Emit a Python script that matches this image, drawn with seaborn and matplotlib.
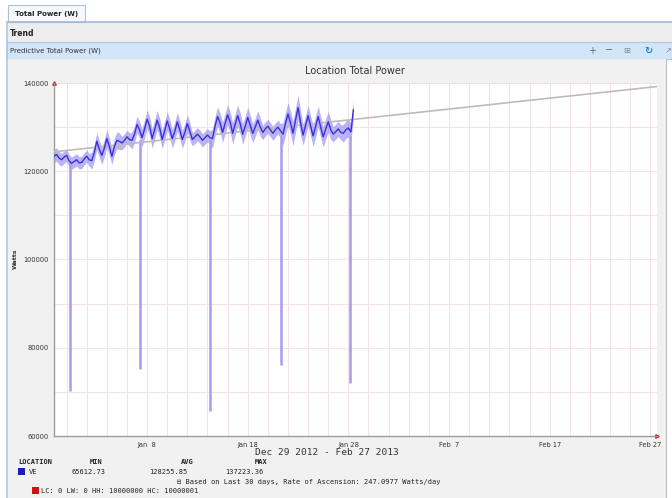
import numpy as np
import pandas as pd
import matplotlib
matplotlib.use('Agg')
import matplotlib.pyplot as plt
from matplotlib.patches import Rectangle
import seaborn as sns


# serie cada 6 horas desde el inicio
SERIE_INICIO = '2012-12-29 18:00'
POTENCIA_W = [
    123400, 123800, 123000,
    122600, 123200, 123600, 122400,
    121800, 122200, 122600, 121900,
    122000, 122800, 123400, 122600,
    122400, 124200, 126800, 125000,
    123600, 125200, 127400, 125600,
    123400, 125600, 127000, 126800,
    126400, 127000, 127800, 127200,
    127000, 128400, 130600, 129400,
    127600, 129600, 131800, 130200,
    127400, 129400, 131600, 129800,
    127200, 129200, 131400, 129600,
    127400, 129000, 131200, 129400,
    127200, 128800, 130800, 129000,
    127200, 127800, 128400, 127800,
    127000, 127600, 128200, 127600,
    127400, 130200, 132400, 131000,
    128800, 130800, 132800, 131200,
    128600, 130600, 132600, 130800,
    128400, 130200, 132200, 130400,
    128600, 130000, 131600, 130000,
    128800, 129600, 130200, 129400,
    128600, 129400, 130000, 129200,
    128400, 130800, 133000, 131000,
    128600, 131600, 134400, 131000,
    128200, 130400, 132600, 130200,
    128000, 130200, 132400, 130000,
    127800, 129600, 131200, 129400,
    128400, 129000, 129600, 128800,
    128600, 129400, 129800, 128900, 134000,
]
# ancho de la banda (por dia)
BANDA_W = [1500, 1400, 1400, 1400, 1900, 2000, 1900, 1500, 1900, 2100,
           2200, 2100, 2100, 2000, 1500, 1500, 2200, 2300, 2400, 2300,
           2100, 1600, 1600, 2600, 2800, 2300, 2400, 2300, 1700, 2000]

CAIDAS_FECHA = ['2012-12-31 08:00', '2013-01-07 07:00', '2013-01-14 06:00',
                '2013-01-21 07:00', '2013-01-28 05:00']
CAIDAS_MIN = [70200, 75200, 65612.73, 76100, 72000]
CAIDAS_DESDE = [122000, 127000, 127000, 128000, 128000]

TENDENCIA_FECHA = ['2012-12-29 18:00', '2013-02-27 16:00']
TENDENCIA_W = [124400, 139200]

TICKS_X = ['2013-01-08', '2013-01-18', '2013-01-28', '2013-02-07', '2013-02-17', '2013-02-27']
ETIQUETAS_X = ['Jan  8', 'Jan 18', 'Jan 28', 'Feb  7', 'Feb 17', 'Feb 27']
TICKS_Y = [60000, 80000, 100000, 120000, 140000]

W, H = 672, 498


def fx(px):
    return px / W


def fy(py):
    return 1 - py / H


def caja(fig, x0, y0, x1, y1, color, borde=None, z=-5):
    fig.patches.append(Rectangle((fx(x0), fy(y1)), fx(x1 - x0), (y1 - y0) / H,
                                 transform=fig.transFigure, facecolor=color,
                                 edgecolor=borde if borde else 'none', lw=0.8, zorder=z))


def main():
    sns.set_style('white')
    plt.rcParams['font.family'] = ['DejaVu Sans']

    fechas = pd.date_range(SERIE_INICIO, periods=len(POTENCIA_W), freq='6h')
    potencia = np.array(POTENCIA_W, dtype=float)
    dia = np.clip((np.arange(len(potencia)) + 1) // 4, 0, len(BANDA_W) - 1)
    banda = np.array(BANDA_W, dtype=float)[dia]

    fig = plt.figure(figsize=(W / 100, H / 100), dpi=100)
    fig.patch.set_facecolor('white')

    # marco de la interfaz
    caja(fig, 7, 23, 672, 42, '#ededed')
    caja(fig, 7, 42, 672, 59, '#d3e5f8', '#aac8ea')
    caja(fig, 7, 59, 666, 498, '#f1f1f1')
    caja(fig, 8, 5, 85, 22, '#f7f9fc', '#aebfd6')
    fig.add_artist(plt.Line2D([fx(7), 1], [fy(22.5), fy(22.5)], color='#9db9dc', lw=1.2, zorder=-4))
    fig.add_artist(plt.Line2D([fx(7), fx(7)], [fy(22), 0], color='#a9c7e8', lw=1.2, zorder=-4))
    fig.add_artist(plt.Line2D([fx(666), fx(666)], [fy(59), 0], color='#bdbdbd', lw=0.8, zorder=-4))

    fig.text(fx(15), fy(14), 'Total Power (W)', fontsize=5, fontweight='bold', color='#222', va='center')
    fig.text(fx(10), fy(33), 'Trend', fontsize=5.5, fontweight='bold', color='#222', va='center')
    fig.text(fx(10), fy(50.5), 'Predictive Total Power (W)', fontsize=5, color='#333', va='center')
    fig.text(fx(592), fy(50.5), '+', fontsize=7, color='#667', ha='center', va='center')
    fig.text(fx(609), fy(50.5), '\u2212', fontsize=7, color='#667', ha='center', va='center')
    fig.text(fx(627), fy(50.5), '\u229e', fontsize=6, color='#889', ha='center', va='center')
    fig.text(fx(648), fy(50.5), '\u21bb', fontsize=7, color='#2a7fd4', ha='center', va='center',
             fontweight='bold')
    fig.text(fx(668), fy(50.5), '\u2197', fontsize=6, color='#889', ha='center', va='center')

    ax = fig.add_axes([fx(54), fy(436), fx(657 - 54), (436 - 83) / H])
    ax.set_zorder(1)
    ax.set_facecolor('white')

    # banda y serie
    ax.fill_between(fechas, potencia - banda, potencia + banda, color='#9d94f4',
                    alpha=0.7, lw=0, zorder=2)
    ax.vlines(pd.to_datetime(CAIDAS_FECHA), CAIDAS_MIN, CAIDAS_DESDE, color='#a59bf3',
              lw=1.8, zorder=2)
    sns.lineplot(x=pd.to_datetime(TENDENCIA_FECHA), y=TENDENCIA_W, ax=ax,
                 color='#bcbcbc', lw=1.2, zorder=3)
    sns.lineplot(x=fechas, y=potencia, ax=ax, color='#3b2fdc', lw=1.0, zorder=4)

    ax.set_xlim(pd.Timestamp('2012-12-29 18:00'), pd.Timestamp('2013-02-27 16:00'))
    ax.set_ylim(60000, 140000)

    ax.set_xticks(pd.to_datetime(TICKS_X))
    ax.set_xticklabels(ETIQUETAS_X)
    ax.set_xticks(pd.date_range('2012-12-31', '2013-02-27', freq='2D'), minor=True)
    ax.set_yticks(TICKS_Y)
    ax.set_yticklabels([str(v) for v in TICKS_Y])
    ax.set_yticks(range(70000, 140000, 20000), minor=True)
    ax.grid(which='both', color='#f4e2e2', lw=0.7, zorder=0)
    ax.set_axisbelow(True)

    ax.tick_params(axis='both', which='major', labelsize=4.8, colors='#333', length=2, width=0.6, pad=2)
    ax.tick_params(axis='both', which='minor', length=0)
    for s in ['top', 'right']:
        ax.spines[s].set_visible(False)
    for s in ['left', 'bottom']:
        ax.spines[s].set_color('#9c9c9c')
        ax.spines[s].set_linewidth(1.0)
    ax.set_xlabel('')
    ax.set_ylabel('')
    ax.plot([0], [1], marker='^', color='#d42020', ms=2.5, transform=ax.transAxes, clip_on=False)
    ax.plot([1], [0], marker='>', color='#d42020', ms=2.5, transform=ax.transAxes, clip_on=False)

    fig.text(fx(355), fy(71), 'Location Total Power', fontsize=7, color='#333', ha='center', va='center')
    fig.text(fx(15), fy(259), 'Watts', fontsize=4.5, color='#333', rotation=90,
             ha='center', va='center', fontweight='bold')

    mono = ['DejaVu Sans Mono', 'DejaVu Sans']
    fig.text(fx(327), fy(452), 'Dec 29 2012 - Feb 27 2013', fontsize=6.8, family=mono,
             color='#333', ha='center', va='center')
    fig.text(fx(18), fy(462), 'LOCATION', fontsize=5, family=mono, fontweight='bold', color='#222', va='center')
    fig.text(fx(96), fy(462), 'MIN', fontsize=5, family=mono, fontweight='bold', color='#222', ha='center', va='center')
    fig.text(fx(187), fy(462), 'AVG', fontsize=5, family=mono, fontweight='bold', color='#222', ha='center', va='center')
    fig.text(fx(261), fy(462), 'MAX', fontsize=5, family=mono, fontweight='bold', color='#222', ha='center', va='center')

    caja(fig, 18, 468, 25, 475, '#1c1cb8', z=2)
    fig.text(fx(29), fy(471.5), 'VE', fontsize=5, family=mono, color='#222', va='center')
    fig.text(fx(105), fy(471.5), '65612.73', fontsize=5, family=mono, color='#222', ha='right', va='center')
    fig.text(fx(187), fy(471.5), '128255.85', fontsize=5, family=mono, color='#222', ha='right', va='center')
    fig.text(fx(263), fy(471.5), '137223.36', fontsize=5, family=mono, color='#222', ha='right', va='center')
    fig.text(fx(177), fy(481.5), '\u229f Based on Last 30 days, Rate of Ascension: 247.0977 Watts/day',
             fontsize=5, family=mono, color='#222', va='center')
    caja(fig, 32, 487, 39, 494, '#c81414', z=2)
    fig.text(fx(41), fy(490.5), 'LC: 0 LW: 0 HH: 10000000 HC: 10000001', fontsize=5, family=mono,
             color='#222', va='center')

    fig.savefig('out.png', dpi=100)
    plt.close(fig)


if __name__ == '__main__':
    main()
